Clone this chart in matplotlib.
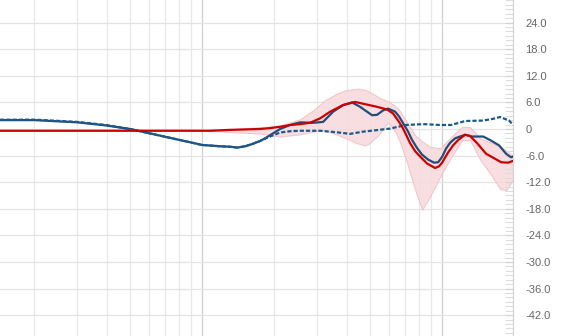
import matplotlib
matplotlib.use("Agg")
import matplotlib.pyplot as plt
from matplotlib.ticker import FixedLocator, MultipleLocator, NullFormatter
import numpy as np

plt.rcParams['font.family'] = ['Liberation Sans', 'DejaVu Sans']

# ---- data (frequency in Hz, level in dB) ----
blue_f = [144, 201, 302, 398, 501, 607, 810, 1000, 1189, 1308, 1399, 1511, 1616, 1745,
          1830, 1920, 2015, 2113, 2326, 2561, 2901, 3193, 3515, 3868, 4217, 4553, 5109,
          5359, 5678, 5957, 6371, 6619, 6879, 7215, 7499, 7866, 8254, 8745, 9261, 9624,
          10000, 10390, 10800, 11330, 12470, 13335, 14825, 15850, 17278, 18480, 19387,
          19740]
blue_db = [2.0, 2.0, 1.5, 0.8, 0.0, -1.0, -2.5, -3.6, -3.9, -4.0, -4.2, -3.9, -3.4, -2.7,
           -2.1, -1.4, -0.7, 0.0, 0.9, 1.5, 1.4, 1.6, 3.9, 5.4, 6.0, 5.0, 3.1,
           3.2, 4.2, 4.6, 3.9, 2.8, 1.3, -0.6, -2.5, -4.3, -5.8, -6.9, -7.6, -7.5,
           -6.3, -4.4, -3.1, -2.1, -1.3, -1.7, -1.7, -2.5, -3.7, -5.6, -6.4,
           -6.2]

dash_f = [144, 201, 302, 398, 501, 607, 810, 1000, 1189, 1308, 1399, 1511, 1616, 1745,
          1920, 2113, 2326, 2561, 3103, 3652, 4137, 4687, 5258, 6072, 7079, 8337, 9810,
          10900, 12470, 14825, 16312, 17451, 19020, 19740]
dash_db = [2.1, 2.1, 1.6, 0.9, 0.0, -1.0, -2.5, -3.6, -3.9, -4.0, -4.2, -3.9, -3.4, -2.7,
           -1.7, -0.8, -0.5, -0.4, -0.4, -0.75, -1.1, -0.6, -0.3, 0.1, 0.9, 1.1, 0.9,
           0.9, 1.8, 1.9, 2.3, 2.7, 1.9, 0.9]

red_f = [144, 1080, 1308, 1745, 1920, 2113, 2326, 2561, 2818, 3103, 3415, 3868, 4340,
         4870, 5359, 5899, 6246, 6556, 6813, 7079, 7356, 7718, 8094, 8660, 9351, 9716,
         10000, 10590, 11110, 11660, 12470, 13080, 13990, 15255, 16474, 17620, 18836,
         19740]
red_db = [-0.4, -0.4, -0.2, 0.0, 0.2, 0.5, 0.9, 1.1, 1.4, 2.4, 3.9, 5.4, 6.1,
          5.5, 5.0, 4.4, 3.5, 1.9, 0.5, -1.3, -3.2, -5.0, -6.2, -7.8, -8.8, -8.4,
          -7.6, -5.3, -3.7, -2.5, -1.3, -1.6, -3.2, -5.6, -6.6, -7.5, -7.6,
          -7.2]

band_f = [1080, 1439, 1745, 2113, 2561, 2957, 3254, 3652, 3944, 4258, 4467, 4777, 4917,
          5359, 5517, 5957, 6371, 6683, 7147, 7718, 8254, 8913, 9810, 10900, 12115,
          13082, 14400, 15849, 17451, 18480, 19740]
band_hi = [-0.4, 0.1, 0.4, 0.8, 2.2, 4.5, 6.5, 8.0, 8.7, 9.0, 9.1, 8.8, 8.5,
           7.4, 7.0, 6.2, 5.2, 4.0, 1.4, -1.4, -2.8, -4.0, -4.4, -1.8, 0.5,
           0.4, -2.1, -3.0, -4.0, -4.8, -6.0]
band_lo = [-0.4, -0.8, -1.0, -1.7, -1.2, -0.5, -0.3, -1.3, -2.0, -2.8, -3.3, -3.7, -3.4,
           -1.7, -0.9, 1.5, -0.5, -3.0, -7.7, -13.7, -18.2, -15.2, -10.8, -6.4, -2.5,
           -2.5, -6.9, -10.0, -13.5, -13.8, -11.5]

y_ticks = [24, 18, 12, 6, 0, -6, -12, -18, -24, -30, -36, -42]
minor_freqs = [200, 300, 400, 500, 600, 700, 800, 900,
               2000, 3000, 4000, 5000, 6000, 7000, 8000, 9000]
major_freqs = [1000, 10000]

# ---- figure ----
fig = plt.figure(figsize=(5.65, 3.36), dpi=100)
ax = fig.add_axes([0, 0, 513 / 565, 1])
ax.set_xscale('log')
ax.set_xlim(143.9, 19740)
ax.set_ylim(-46.7, 29.1)

# grid
for f in minor_freqs:
    ax.axvline(f, color='#e8e8e8', lw=0.9, zorder=0)
for f in major_freqs:
    ax.axvline(f, color='#cfcfcf', lw=0.9, zorder=0)
for y in y_ticks:
    ax.axhline(y, color='#e3e3e3', lw=0.9, zorder=0)

# band
ax.fill_between(band_f, band_lo, band_hi, facecolor='#f7d9dc', edgecolor='#f0c0c4',
                lw=0.8, alpha=0.85, zorder=1)

# lines
ax.plot(blue_f, blue_db, color='#244c78', lw=1.6, zorder=3,
        solid_capstyle='round', solid_joinstyle='round')
dl, = ax.plot(dash_f, dash_db, color='#1b5a8a', lw=1.6, zorder=4)
dl.set_dashes([1.9, 0.9])
ax.plot(red_f, red_db, color='#cc0000', lw=1.6, zorder=5,
        solid_capstyle='round', solid_joinstyle='round')

# axes styling
for s in ['top', 'left', 'bottom']:
    ax.spines[s].set_visible(False)
ax.spines['right'].set_color('#d4d4d4')
ax.spines['right'].set_linewidth(0.9)

ax.xaxis.set_major_locator(FixedLocator([]))
ax.xaxis.set_minor_locator(FixedLocator([]))
ax.xaxis.set_minor_formatter(NullFormatter())

ax.yaxis.tick_right()
ax.yaxis.set_major_locator(FixedLocator(y_ticks))
ax.set_yticklabels(['0' if v == 0 else f'{v:.1f}' for v in y_ticks])
ax.yaxis.set_minor_locator(MultipleLocator(1))
ax.tick_params(axis='y', which='major', direction='in', length=6, color='#d4d4d4',
               labelsize=8, labelcolor='#666666', pad=9)
ax.tick_params(axis='y', which='minor', direction='in', length=6, color='#dddddd', width=0.8)

fig.savefig('out.png', dpi=100)
